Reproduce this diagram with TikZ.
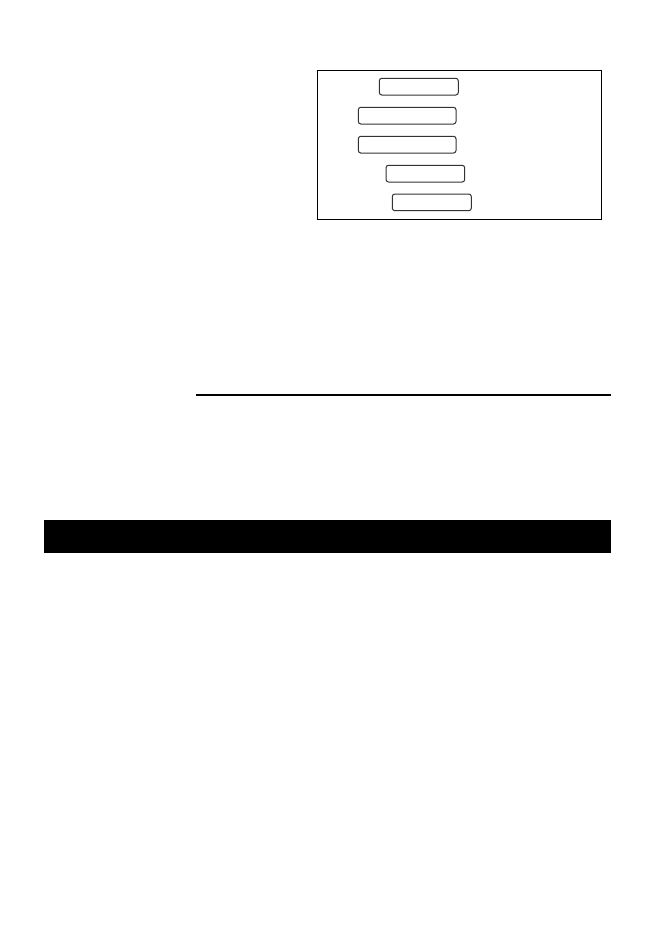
\documentclass[tikz,border=0pt]{standalone}
\begin{document}
\begin{tikzpicture}[x=1pt,y=-1pt,
  pill/.style={draw=black!80,line width=1pt,rounded corners=2.5pt,inner sep=0pt,minimum height=16.7pt},
  framebox/.style={draw=black,line width=1pt}]
\useasboundingbox (0,0) rectangle (663,934);
\fill[white] (0,0) rectangle (663,934);
% framed panel
\node[framebox,inner sep=0pt,minimum width=284.4pt,minimum height=148.7pt] (panel) at (459.5,144.65) {};
% rounded boxes
\node[pill,minimum width=79pt] (b1) at (418.8,86.65) {};
\node[pill,minimum width=97.7pt] (b2) at (407.15,115.65) {};
\node[pill,minimum width=97.7pt] (b3) at (407.15,144.65) {};
\node[pill,minimum width=78.7pt] (b4) at (425.35,173.65) {};
\node[pill,minimum width=79pt] (b5) at (431.8,202.35) {};
% rule
\coordinate (r1) at (196,395);
\coordinate (r2) at (611,395);
\draw[line width=2.2pt] (r1) -- (r2);
% black bar
\node[fill=black,inner sep=0pt,minimum width=567pt,minimum height=33pt] (bar) at (327.5,536.5) {};
\end{tikzpicture}
\end{document}
